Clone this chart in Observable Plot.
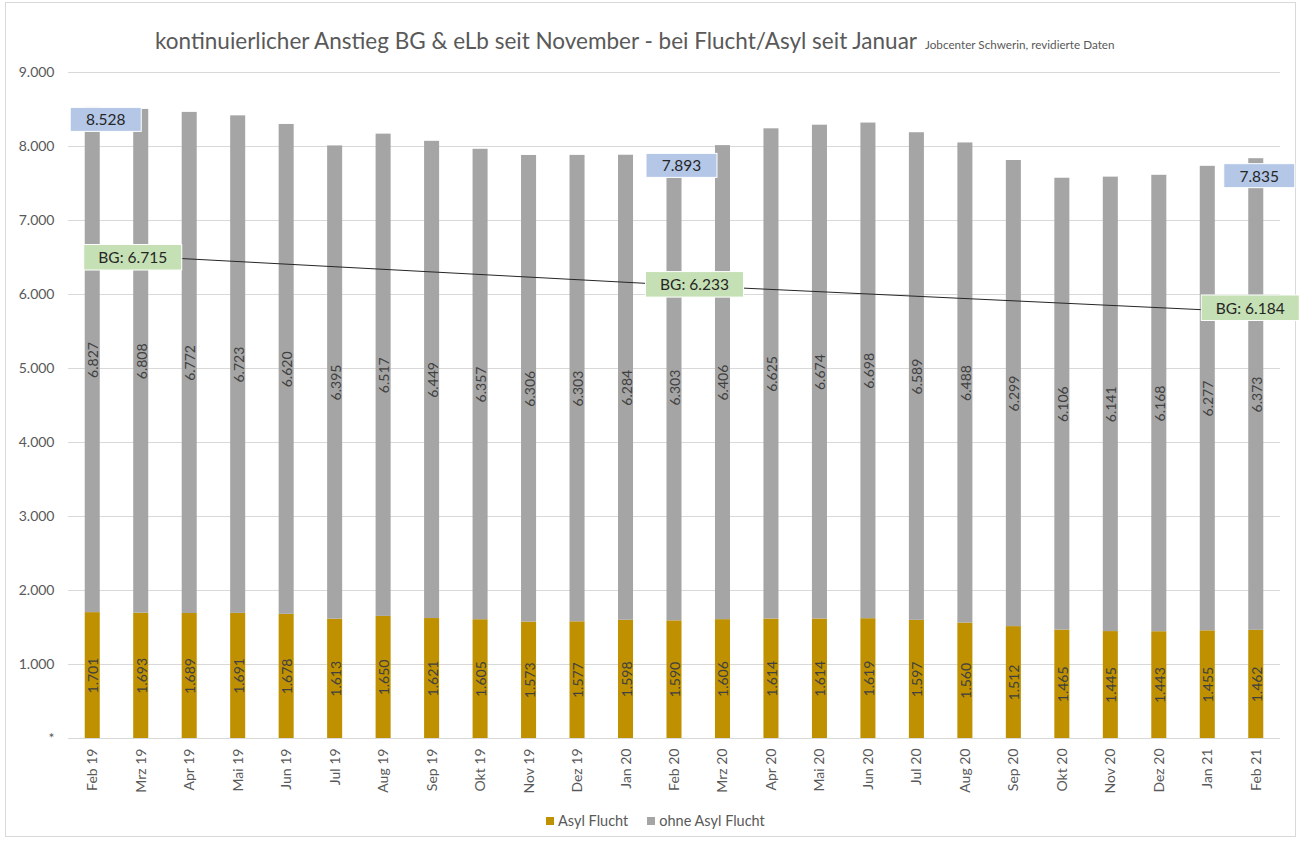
<!DOCTYPE html>
<html>
<head>
<meta charset="utf-8">
<script src="https://cdn.jsdelivr.net/npm/d3@7"></script>
<script src="https://cdn.jsdelivr.net/npm/@observablehq/plot@0.6"></script>
<style>
  html, body { margin: 0; padding: 0; background: #fff; }
  body { width: 1304px; height: 841px; position: relative; overflow: hidden; font-family: Lato, "Open Sans", sans-serif; }
  #frame { position: absolute; left: 5px; top: 2px; width: 1291px; height: 835px; border: 1px solid #d9d9d9; box-sizing: border-box; }
  #title { position: absolute; left: 155px; top: 27px; color: #595959; font-size: 22.5px; white-space: nowrap; }
  #title span { font-size: 11.7px; margin-left: 8px; }
  #chart { position: absolute; left: 0; top: 0; }
  #legend { position: absolute; left: 546px; top: 812px; display: flex; align-items: center; color: #595959; font-size: 14.5px; white-space: nowrap; }
  #legend .sw { display: inline-block; width: 8px; height: 8px; margin-right: 4px; }
  #legend .item { display: flex; align-items: center; margin-right: 19px; }
</style>
</head>
<body>
<div id="frame"></div>
<div id="title">kontinuierlicher Anstieg BG &amp; eLb seit November - bei Flucht/Asyl seit Januar<span>Jobcenter Schwerin, revidierte Daten</span></div>
<div id="chart"></div>
<div id="legend"></div>
<script>
// ---------- data ----------
const months = ["Feb 19","Mrz 19","Apr 19","Mai 19","Jun 19","Jul 19","Aug 19","Sep 19","Okt 19","Nov 19","Dez 19","Jan 20",
                "Feb 20","Mrz 20","Apr 20","Mai 20","Jun 20","Jul 20","Aug 20","Sep 20","Okt 20","Nov 20","Dez 20","Jan 21","Feb 21"];
const asylFlucht = [1701,1693,1689,1691,1678,1613,1650,1621,1605,1573,1577,1598,
                    1590,1606,1614,1614,1619,1597,1560,1512,1465,1445,1443,1455,1462];
const ohneAsylFlucht = [6827,6808,6772,6723,6620,6395,6517,6449,6357,6306,6303,6284,
                        6303,6406,6625,6674,6698,6589,6488,6299,6106,6141,6168,6277,6373];
const seriesNames = ["Asyl Flucht", "ohne Asyl Flucht"];
const seriesColors = ["#bf9000", "#a5a5a5"];
const yTickValues = [0,1000,2000,3000,4000,5000,6000,7000,8000,9000];
const calloutMonths = ["Feb 19", "Feb 20", "Feb 21"];
const bgValues = [6715, 6233, 6184];
// straight reference line (values on the primary axis)
const trendMonths = ["Feb 19", "Feb 20", "Feb 21"];
const trendValues = [6550, 6130, 5760];

// ---------- helpers ----------
const de = d3.formatLocale({decimal: ",", thousands: ".", grouping: [3], currency: ["", " €"]});
const fmt = de.format(",d");

const barRows = [];
const labelRows = [];
months.forEach((m, i) => {
  barRows.push({month: m, series: seriesNames[0], value: asylFlucht[i]});
  barRows.push({month: m, series: seriesNames[1], value: ohneAsylFlucht[i]});
  labelRows.push({month: m, value: asylFlucht[i], mid: asylFlucht[i] / 2});
  labelRows.push({month: m, value: ohneAsylFlucht[i], mid: asylFlucht[i] + ohneAsylFlucht[i] / 2});
});
const trendRows = trendMonths.map((m, i) => ({month: m, value: trendValues[i]}));
const totalRows = calloutMonths.map(m => {
  const i = months.indexOf(m);
  return {month: m, value: asylFlucht[i] + ohneAsylFlucht[i]};
});
const bgRows = calloutMonths.map((m, i) => ({month: m, bg: bgValues[i], value: trendValues[trendMonths.indexOf(m)]}));

// placement offsets of the callout boxes (pixels)
const totalOffsets = [[13, 13], [7, 12], [3, 18]];
const bgOffsets = [[40, 4.5], [20, 0.5], [-6, -3.5]];

const calloutMarks = [];
totalRows.forEach((d, i) => {
  calloutMarks.push(Plot.text([d], {x: "month", y: "value", text: r => fmt(r.value), dx: totalOffsets[i][0], dy: totalOffsets[i][1],
    fill: "#262626", fontSize: 15.5, ariaDescription: "callout-total"}));
});
bgRows.forEach((d, i) => {
  calloutMarks.push(Plot.text([d], {x: "month", y: "value", text: r => "BG: " + fmt(r.bg), dx: bgOffsets[i][0], dy: bgOffsets[i][1],
    fill: "#262626", fontSize: 15.5, ariaDescription: "callout-bg"}));
});

const plot = Plot.plot({
  width: 1304,
  height: 800,
  marginTop: 72,
  marginBottom: 62,
  marginLeft: 68,
  marginRight: 24,
  style: {fontFamily: "Lato, 'Open Sans', sans-serif", fontSize: "14px", color: "#595959", background: "transparent", overflow: "visible"},
  x: {domain: months, round: false, paddingInner: 0.69, paddingOuter: 0.345, tickRotate: -90, tickSize: 0, tickPadding: 10, label: null},
  y: {domain: [0, 9000], ticks: yTickValues, tickFormat: d => d === 0 ? "*" : fmt(d), tickSize: 0, tickPadding: 14, label: null},
  color: {domain: seriesNames, range: seriesColors},
  marks: [
    Plot.ruleY(yTickValues, {stroke: "#d9d9d9", strokeWidth: 1}),
    Plot.barY(barRows, Plot.stackY({x: "month", y: "value", fill: "series", order: seriesNames})),
    Plot.text(labelRows, {x: "month", y: "mid", text: d => fmt(d.value), rotate: -90, fill: "#404040", fontSize: 14, dx: 1}),
    Plot.line(trendRows, {x: "month", y: "value", stroke: "#262626", strokeWidth: 1}),
    ...calloutMarks
  ]
});
document.getElementById("chart").appendChild(plot);

// boxes behind the callout texts
const NS = "http://www.w3.org/2000/svg";
[["callout-total", 71, 24, "#b4c7e7"], ["callout-bg", 98, 25.5, "#c5e0b4"]].forEach(([lab, w, h, fill]) => {
  plot.querySelectorAll(`g[aria-description="${lab}"] text`).forEach(t => {
    const b = t.getBBox();
    const cx = b.x + b.width / 2, cy = b.y + b.height / 2;
    const r = document.createElementNS(NS, "rect");
    r.setAttribute("x", cx - w / 2);
    r.setAttribute("y", cy - h / 2);
    r.setAttribute("width", w);
    r.setAttribute("height", h);
    r.setAttribute("fill", fill);
    r.setAttribute("stroke", "#ffffff");
    r.setAttribute("stroke-width", 1);
    const tr = t.getAttribute("transform");
    if (tr) r.setAttribute("transform", tr);
    t.parentNode.insertBefore(r, t);
  });
});

// legend
const legend = document.getElementById("legend");
seriesNames.forEach((s, i) => {
  const item = document.createElement("div");
  item.className = "item";
  const sw = document.createElement("span");
  sw.className = "sw";
  sw.style.background = seriesColors[i];
  item.appendChild(sw);
  item.appendChild(document.createTextNode(s));
  legend.appendChild(item);
});
</script>
</body>
</html>
